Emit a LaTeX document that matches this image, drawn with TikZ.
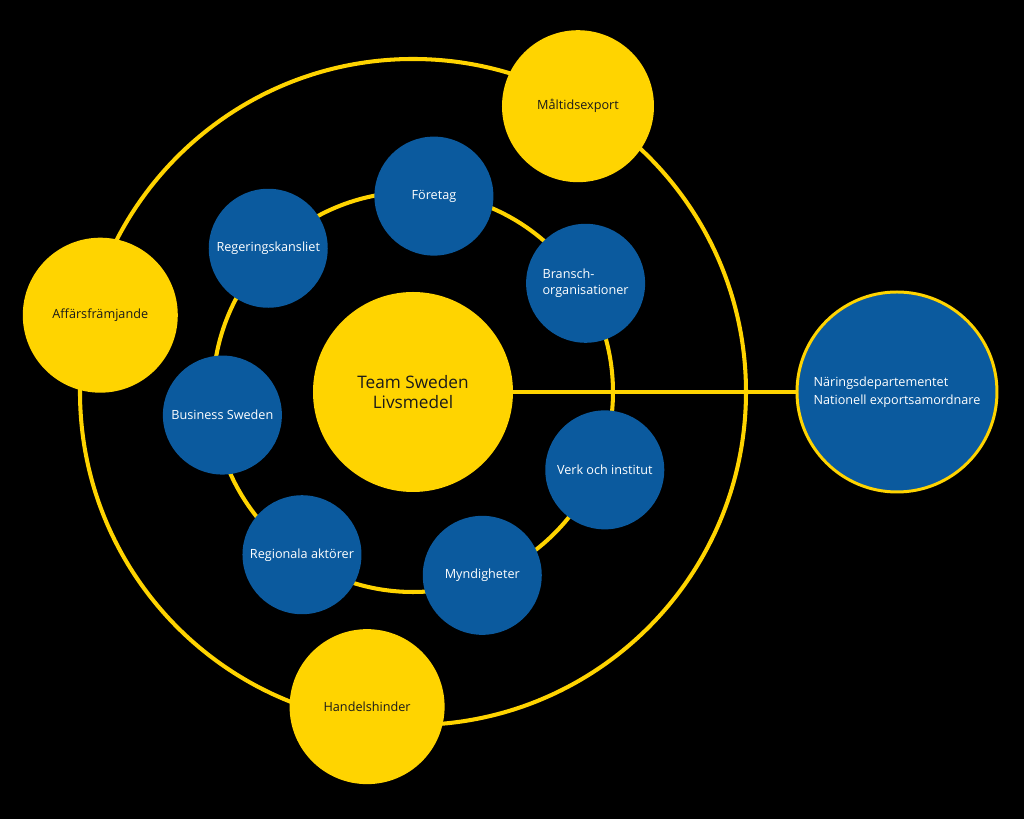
\documentclass[tikz,border=0pt]{standalone}
\usepackage{fontspec}
\setmainfont{Open Sans}
\usetikzlibrary{positioning}
\definecolor{tsyellow}{HTML}{FFD400}
\definecolor{tsblue}{HTML}{0B5A9E}
\definecolor{tsink}{HTML}{1A1A1A}

\begin{document}
\begin{tikzpicture}[
  ring/.style={draw=tsyellow,line width=2.3pt},
  dot/.style={circle,inner sep=0pt,align=center,font=\fontsize{7.2}{9.4}\selectfont},
  org/.style={dot,fill=tsblue,text=white,minimum size=2.38cm},
  theme/.style={dot,fill=tsyellow,text=tsink,minimum size=3.1cm},
  hub/.style={dot,fill=tsyellow,text=tsink,minimum size=4cm,font=\fontsize{9.8}{11.4}\selectfont},
  dept/.style={dot,fill=tsblue,text=white,draw=tsyellow,line width=1.7pt,minimum size=4cm,align=left,font=\fontsize{7.2}{10.2}\selectfont}]
  \useasboundingbox (-8.26,7.84) rectangle (12.22,-8.54);
  \fill[black] (-8.26,7.84) rectangle (12.22,-8.54);
  \coordinate (c) at (0,0);
  \draw[ring] (c) circle (4cm);
  \draw[ring] (c) circle (6.66cm);
  % core
  \node[hub] (team) at (c) {Team Sweden\\Livsmedel};
  % inner ring
  \node[org] (foretag) at (83.9:3.94) {Företag};
  \node[org] (regk) at (135.2:4.08) {Regeringskansliet};
  \node[org,align=left] (bransch) at (32.2:4.08) {Bransch-\\organisationer};
  \node[org] (bsw) at (186.9:3.84) {Business Sweden};
  \node[org] (verk) at (-22.1:4.14) {Verk och institut};
  \node[org] (region) at (235.7:3.94) {Regionala aktörer};
  \node[org] (mynd) at (290.7:3.92) {Myndigheter};
  % outer ring
  \node[theme] (affar) at (166.2:6.44) {Affärsfrämjande};
  \node[theme,minimum size=3.04cm] (maltid) at (60:6.6) {Måltidsexport};
  \node[theme] (handel) at (261.7:6.36) {Handelshinder};
  % ministry
  \node[dept] (naring) at (9.68,0) {Näringsdepartementet\\Nationell exportsamordnare};
  \draw[ring] (team) -- (naring);
\end{tikzpicture}
\end{document}
